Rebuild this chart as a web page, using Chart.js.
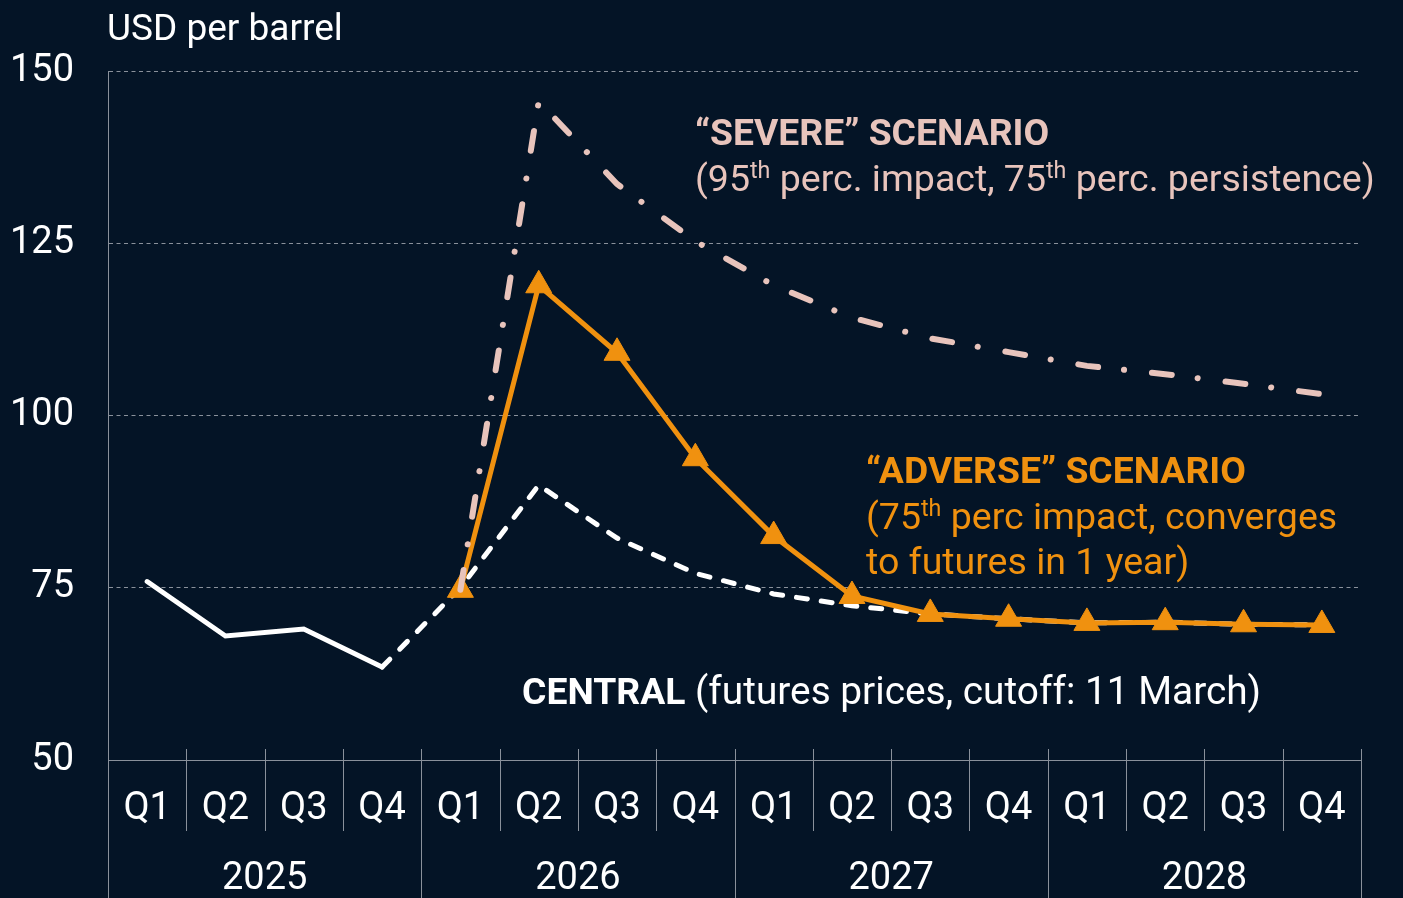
<!DOCTYPE html>
<html lang="en">
<head>
  <meta charset="UTF-8" />
  <title>Oil price scenarios</title>
  <script src="https://cdn.jsdelivr.net/npm/chart.js"></script>
  <style>
    html, body {
      margin: 0;
      padding: 0;
      background: #041426;
    }
    #chartContainer {
      width: 1403px;
      height: 898px;
    }
  </style>
</head>
<body>
  <div id="chartContainer">
    <canvas id="oilChart"></canvas>
  </div>

  <script>
    // data (USD per barrel, quarterly)
    const quarters = ['Q1', 'Q2', 'Q3', 'Q4', 'Q1', 'Q2', 'Q3', 'Q4',
                      'Q1', 'Q2', 'Q3', 'Q4', 'Q1', 'Q2', 'Q3', 'Q4'];
    const years = ['2025', '2026', '2027', '2028'];
    const yTicks = [50, 75, 100, 125, 150];

    const history  = [75.9, 68.0, 69.0, 63.5, null, null, null, null,
                      null, null, null, null, null, null, null, null];
    const central  = [null, null, null, 63.5, 75.0, 89.9, 82.2, 77.1,
                      74.1, 72.4, 71.2, 70.5, 69.9, 70.0, 69.7, 69.6];
    const adverse  = [null, null, null, null, 74.7, 118.9, 109.1, 93.8,
                      82.5, 73.8, 71.2, 70.5, 69.9, 70.0, 69.7, 69.6];
    const severe   = [null, null, null, null, 74.7, 145.6, 133.6, 125.3,
                      118.9, 114.2, 111.2, 109.2, 107.2, 106.0, 104.6, 103.1];

    const WHITE = '#ffffff';
    const ORANGE = '#f0910f';
    const PINK = '#e8c4bc';
    const GRID = '#8a919b';
    const FONT = 'Roboto, "Noto Sans", sans-serif';

    // draws a line of text made of runs (bold / superscript)
    function drawRuns(ctx, x, y, runs, size, color) {
      ctx.fillStyle = color;
      ctx.textBaseline = 'alphabetic';
      ctx.textAlign = 'left';
      runs.forEach(r => {
        const fs = r.size || size;
        const s = r.sup ? fs * 0.62 : fs;
        ctx.font = (r.bold ? 'bold ' : '') + s + 'px ' + FONT;
        const dy = r.sup ? -fs * 0.36 : 0;
        ctx.fillText(r.t, x, y + dy);
        x += ctx.measureText(r.t).width;
      });
    }

    const decorations = {
      id: 'decorations',
      afterDraw(chart) {
        const ctx = chart.ctx;
        const xs = chart.scales.x;
        const x2 = chart.scales.x2;
        const area = chart.chartArea;
        const step = xs.getPixelForValue(1) - xs.getPixelForValue(0);
        ctx.save();
        ctx.strokeStyle = GRID;
        ctx.lineWidth = 1;
        // quarter separators
        for (let i = 0; i <= quarters.length; i++) {
          const px = Math.round(xs.getPixelForValue(0) - step / 2 + i * step) + 0.5;
          ctx.beginPath();
          ctx.moveTo(px, area.bottom - 11);
          ctx.lineTo(px, xs.bottom);
          ctx.stroke();
        }
        // year separators
        for (let i = 0; i <= years.length; i++) {
          const px = Math.round(xs.getPixelForValue(0) - step / 2 + i * step * 4) + 0.5;
          ctx.beginPath();
          ctx.moveTo(px, x2.top);
          ctx.lineTo(px, x2.bottom);
          ctx.stroke();
        }
        // unit label
        drawRuns(ctx, 107, 40, [{t: 'USD per barrel'}], 37, WHITE);

        // scenario labels
        drawRuns(ctx, 695, 145, [{t: '\u201CSEVERE\u201D SCENARIO', bold: true}], 37.3, PINK);
        drawRuns(ctx, 695, 191, [
          {t: '(95'}, {t: 'th', sup: true}, {t: ' perc. impact, 75'},
          {t: 'th', sup: true}, {t: ' perc. persistence)'}
        ], 37.5, PINK);

        drawRuns(ctx, 866, 483, [{t: '\u201CADVERSE\u201D SCENARIO', bold: true}], 37.3, ORANGE);
        drawRuns(ctx, 866, 529, [
          {t: '(75'}, {t: 'th', sup: true}, {t: ' perc impact, converges'}
        ], 37.5, ORANGE);
        drawRuns(ctx, 866, 574, [{t: 'to futures in 1 year)'}], 37.5, ORANGE);

        drawRuns(ctx, 522, 704, [
          {t: 'CENTRAL', bold: true, size: 37.3}, {t: ' (futures prices, cutoff: 11 March)', size: 38.8}
        ], 37.5, WHITE);
        ctx.restore();
      }
    };

    const ctx = document.getElementById('oilChart').getContext('2d');

    const chart = new Chart(ctx, {
      type: 'line',
      data: {
        labels: quarters,
        datasets: [
          {
            label: 'Severe',
            data: severe,
            borderColor: PINK,
            borderWidth: 6,
            borderDash: [20, 26, 0.1, 28],
            borderCapStyle: 'round',
            pointRadius: 0,
            tension: 0,
            order: 0
          },
          {
            label: 'Adverse',
            data: adverse,
            borderColor: ORANGE,
            backgroundColor: ORANGE,
            borderWidth: 5,
            pointStyle: 'triangle',
            pointRadius: 15,
            pointBorderWidth: 1,
            pointBackgroundColor: ORANGE,
            pointBorderColor: ORANGE,
            tension: 0,
            order: 1
          },
          {
            label: 'Central',
            data: central,
            borderColor: WHITE,
            borderWidth: 5,
            borderDash: [11, 14],
            borderCapStyle: 'round',
            pointRadius: 0,
            tension: 0,
            order: 2
          },
          {
            label: 'History',
            data: history,
            borderColor: WHITE,
            borderWidth: 5,
            borderCapStyle: 'round',
            pointRadius: 0,
            tension: 0,
            order: 3
          }
        ]
      },
      options: {
        responsive: true,
        maintainAspectRatio: false,
        animation: false,
        layout: {
          padding: { top: 71, right: 42, left: 0, bottom: 0 }
        },
        plugins: {
          legend: { display: false },
          tooltip: { enabled: false },
          title: { display: false }
        },
        scales: {
          x: {
            position: 'bottom',
            weight: 0,
            offset: true,
            grid: { display: false, drawTicks: false },
            border: { display: true, color: GRID, width: 1 },
            ticks: {
              color: WHITE,
              font: { family: FONT, size: 38 },
              padding: 27,
              maxRotation: 0,
              autoSkip: false
            },
            afterFit(scale) { scale.height = 71; }
          },
          x2: {
            type: 'category',
            labels: years,
            position: 'bottom',
            weight: 1,
            offset: true,
            grid: { display: false, drawTicks: false },
            border: { display: false },
            ticks: {
              color: WHITE,
              font: { family: FONT, size: 38 },
              padding: 26,
              maxRotation: 0,
              autoSkip: false
            },
            afterFit(scale) { scale.height = 67; }
          },
          y: {
            min: 50,
            max: 150,
            afterBuildTicks(scale) {
              scale.ticks = yTicks.map(v => ({ value: v }));
            },
            grid: {
              color: GRID,
              lineWidth: 1,
              drawTicks: false
            },
            border: { display: true, color: GRID, width: 1, dash: [4, 3.5] },
            ticks: {
              color: WHITE,
              font: { family: FONT, size: 38 },
              padding: 34
            },
            afterFit(scale) { scale.width = 108; }
          }
        }
      },
      plugins: [decorations]
    });
  </script>
</body>
</html>
